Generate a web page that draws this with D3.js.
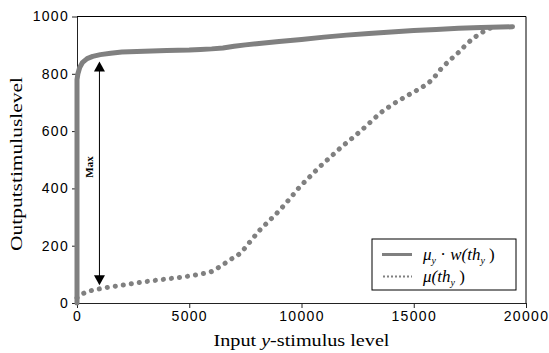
<!DOCTYPE html>
<html>
<head>
<meta charset="utf-8">
<script src="https://cdn.jsdelivr.net/npm/d3@7"></script>
<style>
    body { margin: 0; background: #fff; }
    svg { display: block; }
</style>
</head>
<body>
<svg class="chart" width="549" height="353"></svg>
<script>
// Dados.
var solidInput = [0, 0, 40, 120, 250, 450, 700, 1040, 1500, 2000, 3000, 4000, 5000, 5500, 6000, 6500, 7000, 7500, 8000, 9000, 10000, 11000, 12000, 13000, 14000, 15000, 16000, 17000, 18000, 19400];
var solidOutput = [0, 780, 800, 822, 840, 853, 861, 867, 872, 876, 879, 881, 883, 885, 887, 890, 896, 901, 905, 913, 920, 928, 935, 941, 946, 951, 955, 959, 962, 964];

var dottedInput = [0, 200, 500, 1040, 2000, 3000, 4000, 5000, 5500, 6000, 6370, 6800, 7260, 7700, 8150, 8600, 9040, 9500, 9930, 10400, 10820, 11270, 11715, 12160, 12600, 13050, 13500, 13940, 14390, 14830, 15280, 15600, 15870, 16170, 16615, 17000, 17400, 18100, 18400, 18600];
var dottedOutput = [18, 30, 40, 50, 62, 74, 84, 94, 101, 110, 127, 150, 173, 213, 255, 290, 325, 366, 406, 443, 476, 508, 540, 569, 598, 630, 662, 687, 709, 729, 749, 765, 784, 813, 848, 875, 907, 947, 959, 965];

var xTicks = [0, 5000, 10000, 15000, 20000];
var yTicks = [0, 200, 400, 600, 800, 1000];

// Seta "Max" entre as duas curvas.
var arrowInput = 1000;
var arrowFrom = 62, arrowTo = 843;

var svg = d3.select('.chart'),
    mLeft = 77,
    mRight = 526,
    mTop = 16.5,
    mBottom = 303,
    gray = '#808080';

var x = d3.scaleLinear().domain([0, 20000]).range([mLeft, mRight]);
var y = d3.scaleLinear().domain([0, 1000]).range([mBottom, mTop]);

// Moldura (topo e direita).
svg.append('path')
    .attr('d', 'M' + mLeft + ',' + mTop + 'H' + mRight + 'V' + mBottom)
    .attr('fill', 'none')
    .attr('stroke', '#000')
    .attr('stroke-width', 1);

// Eixos
var xAxis = svg.append('g')
    .attr('transform', 'translate(0,' + mBottom + ')')
    .call(d3.axisBottom(x).tickValues(xTicks).tickFormat(d3.format('d'))
        .tickSize(5).tickPadding(3).tickSizeOuter(0));

var yAxis = svg.append('g')
    .attr('transform', 'translate(' + mLeft + ',0)')
    .call(d3.axisLeft(y).tickValues(yTicks).tickFormat(d3.format('d'))
        .tickSize(5).tickPadding(3).tickSizeOuter(0));

[xAxis, yAxis].forEach(function (a) {
    a.select('.domain').attr('stroke', '#222');
    a.selectAll('.tick line').attr('stroke', '#222');
    a.selectAll('.tick text')
        .attr('fill', '#000')
        .style('font-family', '"Liberation Sans", Arial, sans-serif')
        .style('font-size', '14px')
        .style('letter-spacing', '1.3px');
});

var line = d3.line()
    .x(function (d) { return x(d[0]); })
    .y(function (d) { return y(d[1]); })
    .curve(d3.curveMonotoneX);

// Curva pontilhada: mu(th_y)
svg.append('path')
    .datum(d3.zip(dottedInput, dottedOutput))
    .attr('d', line)
    .attr('fill', 'none')
    .attr('stroke', gray)
    .attr('stroke-width', 5)
    .attr('stroke-linecap', 'round')
    .attr('stroke-dasharray', '0.1,8');

// Curva sólida: mu_y * w(th_y)
svg.append('path')
    .datum(d3.zip(solidInput, solidOutput))
    .attr('d', d3.line()
        .x(function (d) { return x(d[0]); })
        .y(function (d) { return y(d[1]); })
        .curve(d3.curveLinear))
    .attr('fill', 'none')
    .attr('stroke', gray)
    .attr('stroke-width', 5)
    .attr('stroke-linejoin', 'round')
    .attr('stroke-linecap', 'round');

// Seta
var ax = x(arrowInput);
svg.append('line')
    .attr('x1', ax).attr('x2', ax)
    .attr('y1', y(arrowFrom) - 9).attr('y2', y(arrowTo) + 9)
    .attr('stroke', '#000')
    .attr('stroke-width', 1);

svg.append('path')
    .attr('d', 'M' + ax + ',' + y(arrowTo) + 'l-5.5,10h11z')
    .attr('fill', '#000');
svg.append('path')
    .attr('d', 'M' + ax + ',' + y(arrowFrom) + 'l-5.5,-10h11z')
    .attr('fill', '#000');

svg.append('text')
    .attr('transform', 'translate(' + (ax - 6) + ',167) rotate(-90)')
    .attr('text-anchor', 'middle')
    .style('font-family', '"Liberation Serif", "Times New Roman", serif')
    .style('font-weight', 'bold')
    .style('font-size', '11px')
    .text('Max');

// Títulos dos eixos
svg.append('text')
    .attr('transform', 'translate(22,164) rotate(-90)')
    .attr('text-anchor', 'middle')
    .attr('textLength', 174)
    .attr('lengthAdjust', 'spacingAndGlyphs')
    .style('font-family', '"Liberation Serif", "Times New Roman", serif')
    .style('font-size', '16px')
    .text('Outputstimuluslevel');

var xTitle = svg.append('text')
    .attr('x', (mLeft + mRight) / 2)
    .attr('y', 346)
    .attr('text-anchor', 'middle')
    .attr('textLength', 176)
    .attr('lengthAdjust', 'spacingAndGlyphs')
    .style('font-family', '"Liberation Serif", "Times New Roman", serif')
    .style('font-size', '17px');
xTitle.append('tspan').text('Input ');
xTitle.append('tspan').style('font-style', 'italic').text('y');
xTitle.append('tspan').text('-stimulus level');

// Legenda
var legend = svg.append('g').attr('transform', 'translate(372,239)');

legend.append('rect')
    .attr('width', 144)
    .attr('height', 51)
    .attr('fill', '#fff')
    .attr('stroke', '#000')
    .attr('stroke-width', 1);

legend.append('line')
    .attr('x1', 10).attr('x2', 40)
    .attr('y1', 15.5).attr('y2', 15.5)
    .attr('stroke', gray)
    .attr('stroke-width', 3);

legend.append('line')
    .attr('x1', 11).attr('x2', 40)
    .attr('y1', 37.5).attr('y2', 37.5)
    .attr('stroke', gray)
    .attr('stroke-width', 2)
    .attr('stroke-dasharray', '2,2');

function legendText(yPos) {
    return legend.append('text')
        .attr('x', 51)
        .attr('y', yPos)
        .style('font-family', '"Liberation Serif", "Times New Roman", serif')
        .style('font-style', 'italic')
        .style('font-size', '17px');
}

var t1 = legendText(21);
t1.append('tspan').text('\u03bc');
t1.append('tspan').attr('dy', 4).style('font-size', '10px').text('y');
t1.append('tspan').attr('dy', -4).style('font-style', 'normal').text(' \u00b7 ');
t1.append('tspan').text('w(th');
t1.append('tspan').attr('dy', 4).style('font-size', '10px').text('y');
t1.append('tspan').attr('dy', -4).style('font-style', 'normal').text(' )');

var t2 = legendText(43);
t2.append('tspan').text('\u03bc(th');
t2.append('tspan').attr('dy', 4).style('font-size', '10px').text('y');
t2.append('tspan').attr('dy', -4).style('font-style', 'normal').text(' )');
</script>
</body>
</html>
